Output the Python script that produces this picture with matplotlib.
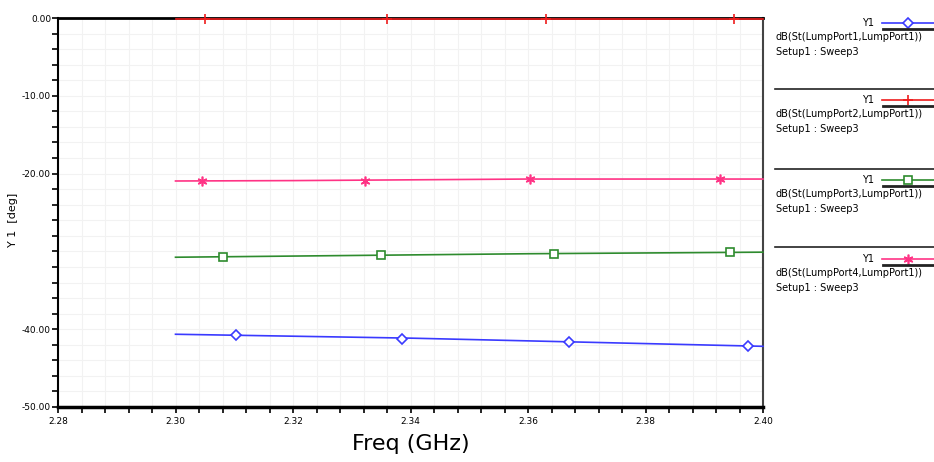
import matplotlib.pyplot as plt
from matplotlib.lines import Line2D

# ============================================================
# Data
# ============================================================

freq = [2.30, 2.32, 2.34, 2.36, 2.38, 2.40]

s11 = [-40.65, -40.9, -41.15, -41.5, -41.85, -42.2]
s21 = [-0.1, -0.1, -0.1, -0.1, -0.1, -0.1]
s31 = [-30.75, -30.6, -30.45, -30.3, -30.2, -30.1]
s41 = [-20.95, -20.9, -20.8, -20.7, -20.7, -20.7]

s11_mk_f = [2.3103, 2.3385, 2.367, 2.3975]
s11_mk_v = [-40.8, -41.2, -41.6, -42.1]
s21_mk_f = [2.305, 2.336, 2.363, 2.395]
s21_mk_v = [-0.1, -0.1, -0.1, -0.1]
s31_mk_f = [2.308, 2.335, 2.3645, 2.3944]
s31_mk_v = [-30.7, -30.5, -30.3, -30.1]
s41_mk_f = [2.3045, 2.3323, 2.3603, 2.3927]
s41_mk_v = [-20.95, -20.9, -20.7, -20.7]

legend_names = [
    "dB(St(LumpPort1,LumpPort1))",
    "dB(St(LumpPort2,LumpPort1))",
    "dB(St(LumpPort3,LumpPort1))",
    "dB(St(LumpPort4,LumpPort1))",
]

x_ticks = [2.28, 2.30, 2.32, 2.34, 2.36, 2.38, 2.40]
y_ticks = [0, -10, -20, -30, -40, -50]
y_tick_labels = ["0.00", "-10.00", "-20.00", "", "-40.00", "-50.00"]

ASTERISK = (6, 2, 0)

# ============================================================
# Figure
# ============================================================

fig = plt.figure(figsize=(9.34, 4.62), dpi=100)
ax = fig.add_axes([58 / 934, 1 - 407 / 462, 705 / 934, 389 / 462])

series = [
    (s11, s11_mk_f, s11_mk_v, "#3a3aff", "D", 5),
    (s21, s21_mk_f, s21_mk_v, "#ee1c1c", "+", 7),
    (s31, s31_mk_f, s31_mk_v, "#2e8b2e", "s", 6),
    (s41, s41_mk_f, s41_mk_v, "#ff3385", ASTERISK, 7),
]


def marker_style(color, marker, size):
    hollow = marker in ("D", "s")
    return dict(
        marker=marker,
        markersize=size,
        markerfacecolor="white" if hollow else color,
        markeredgecolor=color,
        markeredgewidth=1.2,
    )


for values, mk_f, mk_v, color, marker, size in series:
    ax.plot(freq, values, color=color, linewidth=1.2, zorder=5, clip_on=False)
    ax.plot(mk_f, mk_v, linestyle="none", zorder=6, clip_on=False,
            **marker_style(color, marker, size))

ax.set_xlim(2.28, 2.40)
ax.set_ylim(-50, 0)

ax.set_xticks(x_ticks)
ax.set_xticklabels([f"{t:.2f}" for t in x_ticks], fontsize=6.5)
ax.set_xticks([2.28 + 0.004 * i for i in range(31)], minor=True)
ax.set_yticks(y_ticks)
ax.set_yticklabels(y_tick_labels, fontsize=6.5)
ax.set_yticks([-2 * i for i in range(26)], minor=True)

ax.tick_params(axis="both", which="both", direction="out", colors="black")
ax.tick_params(axis="x", which="both", length=4, width=1.2, pad=3)
ax.tick_params(axis="y", which="both", length=4, width=1.2, pad=1)

ax.grid(which="both", color="#f2f2f2", linewidth=0.8)
ax.set_axisbelow(True)

ax.spines["top"].set_linewidth(2)
ax.spines["bottom"].set_linewidth(2.5)
ax.spines["left"].set_linewidth(1.5)
ax.spines["right"].set_color("#444444")
ax.spines["right"].set_linewidth(1.5)

ax.set_xlabel("Freq (GHz)", fontsize=16, labelpad=6)
ax.set_ylabel("Y 1  [deg]", fontsize=8)
ax.yaxis.set_label_coords(-40 / 705, 0.48)

# ============================================================
# Legend (drawn like the HFSS side panel)
# ============================================================

entry_tops = [23, 100, 180, 259]
separators = [89, 169, 247]

for sep in separators:
    fig.add_artist(Line2D([775 / 934, 1.0], [1 - sep / 462] * 2,
                          color="#222222", linewidth=1.2))

for (values, mk_f, mk_v, color, marker, size), top, name in zip(series, entry_tops, legend_names):
    y = 1 - top / 462
    fig.text(868 / 934, y, "Y1", fontsize=7, ha="center", va="center")
    fig.add_artist(Line2D([882 / 934, 1.0], [y, y], color=color, linewidth=1.2))
    fig.add_artist(Line2D([908 / 934], [y], linestyle="none",
                          **marker_style(color, marker, size)))
    y_under = 1 - (top + 6) / 462
    fig.add_artist(Line2D([883 / 934, 1.0], [y_under, y_under],
                          color="#222222", linewidth=2))
    fig.text(776 / 934, 1 - (top + 14) / 462, name, fontsize=7, va="center")
    fig.text(776 / 934, 1 - (top + 29) / 462, "Setup1 : Sweep3", fontsize=7, va="center")

plt.savefig("out.png", dpi=100)
